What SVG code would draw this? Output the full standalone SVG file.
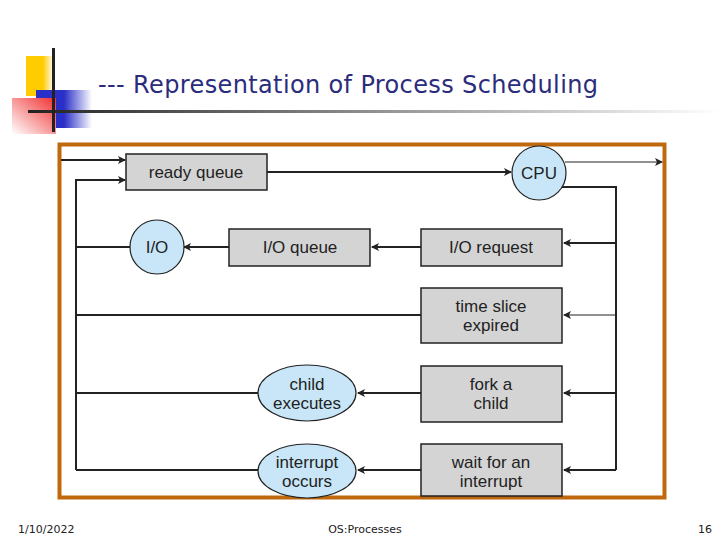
<svg xmlns="http://www.w3.org/2000/svg" width="720" height="540" viewBox="0 0 720 540">
<defs>
<marker id="ah" markerWidth="8" markerHeight="8" refX="7" refY="4" orient="auto" markerUnits="userSpaceOnUse"><path d="M0,0 L8,4 L0,8 L2,4 Z" fill="#222"/></marker>
<linearGradient id="bar" x1="0" x2="1"><stop offset="0" stop-color="#222"/><stop offset="1" stop-color="#fff"/></linearGradient>
<linearGradient id="blue" x1="0" x2="1"><stop offset="0.5" stop-color="#2a2fc8"/><stop offset="1" stop-color="#fff"/></linearGradient>
<linearGradient id="red" x1="1" x2="0" y1="0" y2="1"><stop offset="0" stop-color="#f03030"/><stop offset="1" stop-color="#fff"/></linearGradient>
<linearGradient id="yel" x1="0" x2="1"><stop offset="0.6" stop-color="#ffcc00"/><stop offset="1" stop-color="#fff"/></linearGradient>
</defs>
<style>
.box{fill:#d4d4d4;stroke:#222;stroke-width:1.5}
.circ{fill:#c8e6f7;stroke:#222;stroke-width:1.2}
.t{font-family:"Liberation Sans",Arial,sans-serif;font-size:17px;fill:#222;text-anchor:middle}
.ln{fill:none;stroke:#222;stroke-width:2}
.thin{fill:none;stroke:#222;stroke-width:1}
.f{font-family:"DejaVu Sans",sans-serif;font-size:11px;fill:#222}
</style>
<g id="decor">
<rect x="26" y="56" width="28" height="40" fill="url(#yel)"/>
<rect x="36" y="90" width="56" height="38" fill="url(#blue)"/>
<rect x="12" y="98" width="44" height="36" fill="url(#red)"/>
<rect x="28" y="110" width="692" height="3" fill="url(#bar)"/>
<rect x="52" y="48" width="3" height="84" fill="#222"/>
<text x="98" y="93" font-family="Tahoma,'DejaVu Sans',sans-serif" font-size="24" fill="#2c2c7c" textLength="500" lengthAdjust="spacing">--- Representation of Process Scheduling</text>
</g>
<rect id="frame" x="59.5" y="144.5" width="605" height="353" fill="none" stroke="#c0680e" stroke-width="4"/>
<g id="connectors">
<path class="ln" d="M61,160 H125" marker-end="url(#ah)"/>
<path class="ln" d="M76,470 V180 H125" marker-end="url(#ah)"/>
<path class="ln" d="M267,172 H511" marker-end="url(#ah)"/>
<path class="thin" d="M565,162 H662" marker-end="url(#ah)"/>
<path class="ln" d="M560,187 H616 V470"/>
<path class="ln" d="M616,243 H564" marker-end="url(#ah)"/>
<path class="thin" d="M616,315 H564" marker-end="url(#ah)"/>
<path class="ln" d="M616,393 H564" marker-end="url(#ah)"/>
<path class="ln" d="M616,470 H564" marker-end="url(#ah)"/>
<path class="ln" d="M421,247 H372" marker-end="url(#ah)"/>
<path class="ln" d="M229,247 H184" marker-end="url(#ah)"/>
<path class="ln" d="M130,247 H76"/>
<path class="ln" d="M421,315 H76"/>
<path class="ln" d="M421,393 H358" marker-end="url(#ah)"/>
<path class="ln" d="M258,393 H76"/>
<path class="ln" d="M421,470 H358" marker-end="url(#ah)"/>
<path class="ln" d="M258,470 H76"/>
</g>
<g id="ready"><rect class="box" x="126" y="154" width="141" height="36"/><text class="t" x="196" y="178">ready queue</text></g>
<g id="cpu"><circle class="circ" cx="539" cy="173" r="27"/><text class="t" x="539" y="179">CPU</text></g>
<g id="io"><circle class="circ" cx="157" cy="247" r="27"/><text class="t" x="157" y="253">I/O</text></g>
<g id="ioqueue"><rect class="box" x="229" y="229" width="141" height="37"/><text class="t" x="300" y="253">I/O queue</text></g>
<g id="iorequest"><rect class="box" x="421" y="229" width="141" height="37"/><text class="t" x="491" y="253">I/O request</text></g>
<g id="timeslice"><rect class="box" x="421" y="288" width="141" height="55"/><text class="t" x="491" y="312">time slice</text><text class="t" x="491" y="331">expired</text></g>
<g id="fork"><rect class="box" x="421" y="366" width="141" height="56"/><text class="t" x="491" y="390">fork a</text><text class="t" x="491" y="409">child</text></g>
<g id="wait"><rect class="box" x="421" y="444" width="141" height="52"/><text class="t" x="491" y="468">wait for an</text><text class="t" x="491" y="487">interrupt</text></g>
<g id="child"><ellipse class="circ" cx="307" cy="393" rx="49" ry="28"/><text class="t" x="307" y="390">child</text><text class="t" x="307" y="409">executes</text></g>
<g id="interrupt"><ellipse class="circ" cx="307" cy="471" rx="49" ry="27"/><text class="t" x="307" y="468">interrupt</text><text class="t" x="307" y="487">occurs</text></g>
<g id="footer">
<text class="f" x="18" y="533">1/10/2022</text>
<text class="f" x="365" y="533" text-anchor="middle">OS:Processes</text>
<text class="f" x="712" y="533" text-anchor="end">16</text>
</g>
</svg>
